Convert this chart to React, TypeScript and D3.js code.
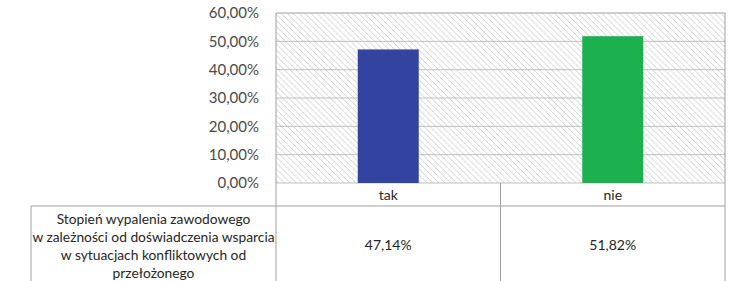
import React from "react";
import * as d3 from "d3";

const categories = ["tak", "nie"];
const values = [0.4714, 0.5182];
const valueLabels = ["47,14%", "51,82%"];
const ticks = [0, 0.1, 0.2, 0.3, 0.4, 0.5, 0.6];
const barColors = ["#3344A0", "#1DB04F"];
const rowLabel = [
  "Stopień wypalenia zawodowego",
  "w zależności od doświadczenia wsparcia",
  "w sytuacjach konfliktowych od",
  "przełożonego",
];

export default function App() {
  const W = 730, H = 281;
  const left = 276, right = 725, top = 13, base = 183;
  const catBottom = 206;
  const tableLeft = 31;
  const y = d3.scaleLinear().domain([0, 0.6]).range([base, top]);
  const x = d3.scaleBand().domain(categories).range([left, right]);
  const barW = 61;
  const fmt = (v: number) => (v * 100).toFixed(2).replace(".", ",") + "%";
  const font = "Lato, 'Open Sans', sans-serif";
  const grid = "#BFBFBF";
  return (
    <svg width={W} height={H} style={{ position: "absolute", left: 0, top: 0, background: "#fff" }}>
      <defs>
        <pattern id="hatch" width={4.2} height={4.2} patternUnits="userSpaceOnUse" patternTransform="rotate(-45)">
          <rect width={4.2} height={4.2} fill="#fff" />
          <line x1={0} y1={0} x2={0} y2={4.2} stroke="#B4B4B4" strokeWidth={0.9} />
        </pattern>
      </defs>
      <rect x={left} y={top} width={right - left} height={base - top} fill="url(#hatch)" />
      {ticks.map((t) => (
        <g key={t}>
          <line x1={left} x2={right} y1={y(t)} y2={y(t)} stroke={grid} strokeWidth={1} />
          <text x={259} y={y(t)} dy="0.35em" textAnchor="end" fontFamily={font} fontSize={15} fill="#4A4A4A">
            {fmt(t)}
          </text>
        </g>
      ))}
      {categories.map((c, i) => (
        <rect key={c} x={x(c)! + x.bandwidth() / 2 - barW / 2} y={y(values[i])} width={barW} height={base - y(values[i])} fill={barColors[i]} />
      ))}
      <line x1={left} x2={left} y1={top} y2={H} stroke="#A0A0A0" />
      <line x1={right} x2={right} y1={top} y2={H} stroke="#A0A0A0" />
      <line x1={x("nie")!} x2={x("nie")!} y1={base} y2={H} stroke="#A0A0A0" />
      <line x1={tableLeft} x2={right} y1={catBottom} y2={catBottom} stroke="#A0A0A0" />
      <line x1={tableLeft} x2={tableLeft} y1={catBottom} y2={H} stroke="#A0A0A0" />
      <line x1={left} x2={right} y1={top} y2={top} stroke={grid} />
      {categories.map((c, i) => (
        <g key={c}>
          <text x={x(c)! + x.bandwidth() / 2} y={(base + catBottom) / 2 + 1} dy="0.35em" textAnchor="middle" fontFamily={font} fontSize={14} fill="#262626">
            {c}
          </text>
          <text x={x(c)! + x.bandwidth() / 2} y={245} dy="0.35em" textAnchor="middle" fontFamily={font} fontSize={14} fill="#262626">
            {valueLabels[i]}
          </text>
        </g>
      ))}
      {rowLabel.map((l, i) => (
        <text key={i} x={(tableLeft + left) / 2} y={219.5 + i * 17.8} dy="0.35em" textAnchor="middle" fontFamily={font} fontSize={13.8} fill="#262626">
          {l}
        </text>
      ))}
    </svg>
  );
}
